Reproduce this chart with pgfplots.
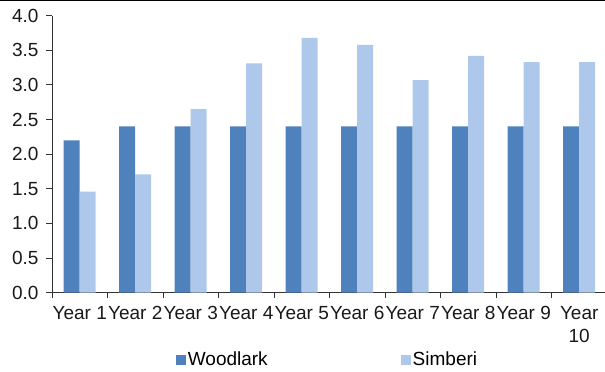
\documentclass[border=0pt]{standalone}
\usepackage{fontspec}
\setmainfont{Liberation Sans}
\usepackage{pgfplots}
\pgfplotsset{compat=1.18}
\definecolor{woodlark}{HTML}{4F81BD}
\definecolor{simberi}{HTML}{ADC8EB}
\begin{document}
\begin{tikzpicture}[x=1pt,y=1pt]
\useasboundingbox (0,0) rectangle (605,372);
\draw[line width=1.5pt] (0,371.25) -- (605,371.25);
\begin{axis}[
  at={(52pt,79.3pt)}, anchor=south west,
  scale only axis, width=555pt, height=277pt,
  ymin=0, ymax=4, ytick={0,0.5,...,4},
  xmin=-0.5, xmax=9.5,
  ybar, bar width=16pt, ybar=0pt,
  axis x line*=bottom, axis y line*=left,
  x axis line style={-, line width=0.9pt, black!80},
  y axis line style={-, line width=0.9pt, black!80},
  tick align=outside,
  xtick={0,...,9},
  xticklabels={Year 1,Year 2,Year 3,Year 4,Year 5,Year 6,Year 7,Year 8,Year 9,{Year\\10}},
  major x tick style={draw=none},
  minor xtick={-0.5,0.5,...,9.5},
  minor tick length=5pt,
  major tick length=6pt,
  tick style={line width=0.9pt, black!80},
  yticklabel style={xshift=-4pt, /pgf/number format/.cd, fixed, fixed zerofill, precision=1, assume math mode=true},
  ticklabel style={font=\fontsize{19}{23}\selectfont, text=black!90},
  xticklabel style={align=center, yshift=-4pt},
  legend columns=2,
  legend style={at={(0.5,0)}, anchor=center, yshift=-67pt, xshift=-2pt, draw=none,
    font=\fontsize{19}{22}\selectfont,
    nodes={inner sep=1.5pt},
    /tikz/every even column/.append style={column sep=132pt}},
  legend image code/.code={\fill[#1,draw=none] (0pt,-5pt) rectangle (10pt,5pt);},
]
\addplot[fill=woodlark, draw=none] coordinates {
  (0,2.2) (1,2.4) (2,2.4) (3,2.4) (4,2.4) (5,2.4) (6,2.4) (7,2.4) (8,2.4) (9,2.4)};
\addplot[fill=simberi, draw=none] coordinates {
  (0,1.46) (1,1.71) (2,2.65) (3,3.31) (4,3.68) (5,3.58) (6,3.07) (7,3.42) (8,3.33) (9,3.33)};
\legend{Woodlark,Simberi}
\end{axis}
\end{tikzpicture}
\end{document}
